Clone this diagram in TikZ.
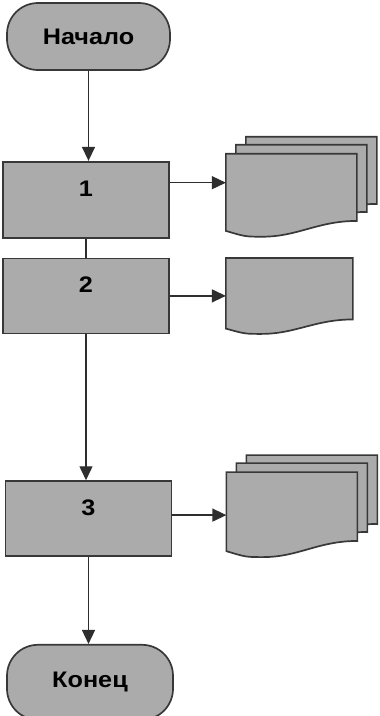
\documentclass[tikz,border=0pt]{standalone}
\usepackage{fontspec}
\setmainfont{Liberation Sans}[FakeStretch=1.12]
\usepackage{tikz}
\usetikzlibrary{positioning, arrows.meta, calc}
\definecolor{fcgray}{HTML}{ABABAB}
\definecolor{fcline}{HTML}{383838}
\definecolor{fcarrow}{HTML}{2E2E2E}

% page of a document symbol, drawn in the box of node #1, moved by (#2,#3)
\newcommand{\docpage}[3]{%
  \draw[docline] let \p1=(#1.north west), \p2=(#1.south east),
    \n1={\x2-\x1}, \n2={\y1-\y2} in
    (\x1+#2,\y1+#3) -- (\x2+#2,\y1+#3) -- (\x2+#2,\y1+#3-0.81*\n2)
    .. controls (\x2+#2-0.3*\n1,\y1+#3-0.81*\n2) and (\x1+#2+0.55*\n1,\y2+#3)
    .. (\x1+#2+0.28*\n1,\y2+#3)
    .. controls (\x1+#2+0.15*\n1,\y2+#3) .. (\x1+#2,\y1+#3-0.93*\n2) -- cycle;}

\begin{document}
\begin{tikzpicture}[
  x=1pt, y=-1pt,
  terminal/.style={
    rectangle, rounded corners=31pt, draw=fcline, fill=fcgray, line width=1.7pt,
    minimum width=163pt, minimum height=67pt,
    font=\fontsize{22.5}{26}\selectfont\bfseries
  },
  procbox/.style={
    rectangle, draw=fcline, fill=fcgray, line width=1.7pt,
    minimum width=166pt, minimum height=76pt,
    font=\fontsize{22.5}{26}\selectfont\bfseries,
    text height=16pt, text depth=22pt
  },
  docbox/.style={rectangle, draw=none, inner sep=0pt, outer sep=0pt},
  docline/.style={draw=fcline, fill=fcgray, line width=1.7pt},
  arr/.style={-{Triangle[length=14pt, width=13pt]}, line width=1.4pt, color=fcarrow},
  link/.style={line width=1.4pt, color=fcarrow},
]
\useasboundingbox (0,0) rectangle (380,716);

% Steps
\node[terminal] (start) at (88.5,36.5) {Начало};
\node[procbox, below=90pt of start, xshift=-2.5pt] (step1) {1};
\node[procbox, below=19pt of step1, minimum height=75pt] (step2) {2};
\node[procbox, below=146pt of step2, minimum height=75pt, xshift=2.5pt] (step3) {3};
\node[terminal, below=87pt of step3, minimum width=166pt, minimum height=75pt, xshift=1.5pt] (finish) {Конец};

% Documents
\node[docbox, right=56pt of step1, yshift=4.5pt, minimum width=131pt, minimum height=83pt] (doc1) {};
\node[docbox, right=56pt of step2, minimum width=127pt, minimum height=76pt] (doc2) {};
\node[docbox, right=54pt of step3, yshift=4pt, minimum width=131pt, minimum height=85pt] (doc3) {};

\docpage{doc1}{20pt}{17pt}
\docpage{doc1}{10pt}{9pt}
\docpage{doc1}{0pt}{0pt}
\docpage{doc2}{0pt}{0pt}
\docpage{doc3}{20pt}{17pt}
\docpage{doc3}{10pt}{9pt}
\docpage{doc3}{0pt}{0pt}

% Arrows
\draw[arr] (start) -- (start |- step1.north);
\draw[link] (step1) -- (step2);
\draw[arr] (step2.south) -- (step2.south |- step3.north);
\draw[arr] (step3.south) -- (step3.south |- finish.north);
\draw[arr] ([yshift=17pt]step1.east) -- ([yshift=17pt]step1.east -| doc1.west);
\draw[arr] (step2.east) -- (step2.east -| doc2.west);
\draw[arr] ([yshift=3.5pt]step3.east) -- ([yshift=3.5pt]step3.east -| doc3.west);

\end{tikzpicture}
\end{document}
